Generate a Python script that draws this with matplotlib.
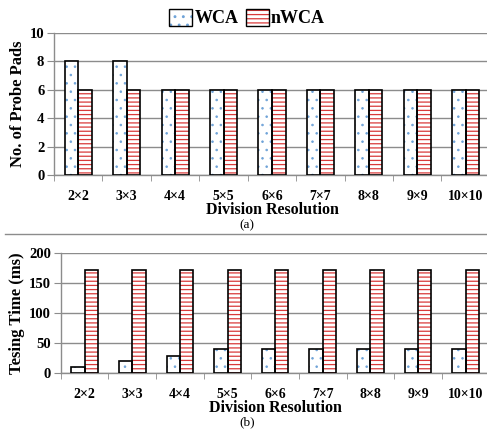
import numpy as np
import matplotlib as mpl
import matplotlib.pyplot as plt
from matplotlib.patches import Patch

# Data
categories = ['2×2', '3×3', '4×4', '5×5', '6×6', '7×7', '8×8', '9×9', '10×10']
pads_wca = [8, 8, 6, 6, 6, 6, 6, 6, 6]
pads_nwca = [6, 6, 6, 6, 6, 6, 6, 6, 6]
time_wca = [9, 19, 28, 40, 40, 40, 40, 40, 40]
time_nwca = [172, 172, 172, 172, 172, 172, 172, 172, 172]

plt.rcParams['font.family'] = ['Liberation Serif', 'DejaVu Serif']
plt.rcParams['font.weight'] = 'bold'
plt.rcParams['axes.labelweight'] = 'bold'
plt.rcParams['hatch.linewidth'] = 0.9

dot_color = '#6fa3d8'
line_color = '#d93a3a'
grid_color = '#8c8c8c'
bar_w = 0.28

fig = plt.figure(figsize=(4.87, 4.30), dpi=100)
ax1 = fig.add_axes([0.111, 0.593, 0.895, 0.330])
ax2 = fig.add_axes([0.125, 0.133, 0.880, 0.279])

x = np.arange(len(categories))


def draw_bars(ax, vals, offset, hatch, hcolor, hlw):
    # hatch layer (hatch takes the edge colour), then black outline on top
    with mpl.rc_context({'hatch.linewidth': hlw}):
        ax.bar(x + offset, vals, bar_w, color='white', edgecolor=hcolor,
               hatch=hatch, linewidth=0, zorder=3)
    ax.bar(x + offset, vals, bar_w, fill=False, edgecolor='black',
           linewidth=1.2, zorder=4)


def style_axis(ax, ymax, step, ylabel):
    ax.set_xlim(-0.5, len(categories) - 0.5)
    ax.set_ylim(0, ymax)
    yt = np.arange(0, ymax + 1, step)
    ax.set_yticks(yt, labels=[str(v) for v in yt], fontweight='bold')
    ax.yaxis.grid(True, color=grid_color, linewidth=1.0)
    ax.set_axisbelow(True)
    for s in ['top', 'right']:
        ax.spines[s].set_visible(False)
    for s in ['left', 'bottom']:
        ax.spines[s].set_color(grid_color)
        ax.spines[s].set_linewidth(1.0)
    ax.set_xticks(x, labels=categories, fontweight='bold')
    ax.set_xticks(np.arange(-0.5, len(categories)), minor=True)
    ax.tick_params(axis='x', which='major', length=0, pad=11, labelsize=10)
    ax.tick_params(axis='x', which='minor', length=4, color=grid_color)
    ax.tick_params(axis='y', length=5, color=grid_color, pad=2, labelsize=10.5)
    ax.set_ylabel(ylabel, fontsize=12, fontweight='bold', labelpad=3)
    ax.set_xlabel('Division Resolution', fontsize=11.5, fontweight='bold',
                  labelpad=-1)


# (a) number of probe pads
draw_bars(ax1, pads_wca, -bar_w / 2, '..', dot_color, 0.6)
draw_bars(ax1, pads_nwca, bar_w / 2, '----', line_color, 0.9)
style_axis(ax1, 10, 2, 'No. of Probe Pads')

# (b) testing time
draw_bars(ax2, time_wca, -bar_w / 2, '..', dot_color, 0.6)
draw_bars(ax2, time_nwca, bar_w / 2, '----', line_color, 0.9)
style_axis(ax2, 200, 50, 'Tesing Time (ms)')

# captions and separator
fig.text(0.507, 1 - 225 / 430, '(a)', ha='center', va='center',
         fontsize=9.5, fontweight='normal')
fig.text(0.507, 1 - 422 / 430, '(b)', ha='center', va='center',
         fontsize=9.5, fontweight='normal')
fig.add_artist(plt.Line2D([0.01, 1.0], [1 - 234 / 430, 1 - 234 / 430],
                          color=grid_color, linewidth=1.0))

# legend at the top
h_wca = (Patch(facecolor='white', edgecolor=dot_color, hatch='..', linewidth=0),
         Patch(fill=False, edgecolor='black', linewidth=1.0))
h_nwca = (Patch(facecolor='white', edgecolor=line_color, hatch='----', linewidth=0),
          Patch(fill=False, edgecolor='black', linewidth=1.0))
leg = fig.legend([h_wca, h_nwca], ['WCA', 'nWCA'], loc='center',
                 bbox_to_anchor=(0.507, 0.958), ncol=2, frameon=False,
                 handlelength=1.3, handleheight=1.1, handletextpad=0.1,
                 columnspacing=0.4, borderpad=0,
                 prop={'size': 13, 'weight': 'bold'})

fig.savefig('out.png', dpi=100)
